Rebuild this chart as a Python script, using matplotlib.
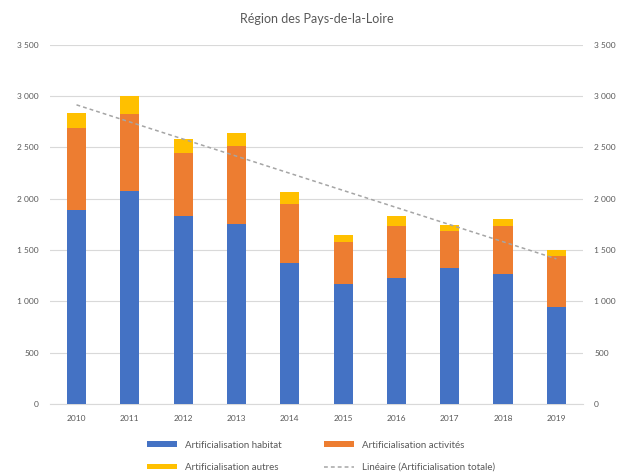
import numpy as np
from matplotlib import pyplot as plt
from matplotlib.ticker import FuncFormatter

plt.rcParams['font.family'] = ['Lato', 'DejaVu Sans']

years = ['2010', '2011', '2012', '2013', '2014', '2015', '2016', '2017', '2018', '2019']
habitat = [1890, 2080, 1835, 1755, 1370, 1165, 1230, 1330, 1270, 945]
activites = [800, 750, 615, 755, 580, 410, 505, 355, 465, 500]
autres = [150, 170, 130, 130, 120, 75, 95, 55, 65, 55]

GRAY = '#595959'
x = np.arange(len(years))
totals = np.array(habitat) + np.array(activites) + np.array(autres)

fig = plt.figure(figsize=(6.31, 4.72), dpi=100)
ax = fig.add_axes([0.079, 0.144, 0.845, 0.761])

w = 0.36
b1 = ax.bar(x, habitat, w, color='#4472C4', label='Artificialisation habitat', zorder=3)
b2 = ax.bar(x, activites, w, bottom=habitat, color='#ED7D31',
            label='Artificialisation activités', zorder=3)
b3 = ax.bar(x, autres, w, bottom=np.array(habitat) + np.array(activites),
            color='#FFC000', label='Artificialisation autres', zorder=3)

# linear trend of the totals
p = np.polyfit(x, totals, 1)
tl, = ax.plot(x, np.polyval(p, x), color='#A5A5A5', lw=1.1, ls=(0, (2.5, 2)),
              label='Linéaire (Artificialisation totale)', zorder=4)

ax.set_xlim(-0.5, len(years) - 0.5)
ax.set_ylim(0, 3500)
ax.set_yticks(np.arange(0, 3501, 500))
fmt = FuncFormatter(lambda v, pos: f'{int(v):,}'.replace(',', ' '))
ax.yaxis.set_major_formatter(fmt)
ax.set_xticks(x)
ax.set_xticklabels(years)
ax.grid(axis='y', color='#D9D9D9', lw=0.8, zorder=0)
for s in ax.spines.values():
    s.set_visible(False)
ax.spines['bottom'].set_visible(True)
ax.spines['bottom'].set_color('#D9D9D9')
ax.tick_params(length=0, labelsize=6, colors=GRAY, pad=8)

ax2 = ax.twinx()
ax2.set_ylim(0, 3500)
ax2.set_yticks(np.arange(0, 3501, 500))
ax2.yaxis.set_major_formatter(fmt)
for s in ax2.spines.values():
    s.set_visible(False)
ax2.tick_params(length=0, labelsize=6, colors=GRAY, pad=8)

ax.set_title('Région des Pays-de-la-Loire', fontsize=9, color=GRAY, pad=16)

fig.legend([b1, b3, b2, tl],
           ['Artificialisation habitat', 'Artificialisation autres',
            'Artificialisation activités', 'Linéaire (Artificialisation totale)'],
           ncol=2, loc='upper left', bbox_to_anchor=(0.219, 0.085), frameon=False,
           fontsize=7, labelcolor=GRAY, handlelength=3.1, handleheight=0.5,
           handletextpad=0.8, columnspacing=4.4, labelspacing=1.35, borderpad=0.4)

fig.savefig('out.png', dpi=100)
plt.close()
